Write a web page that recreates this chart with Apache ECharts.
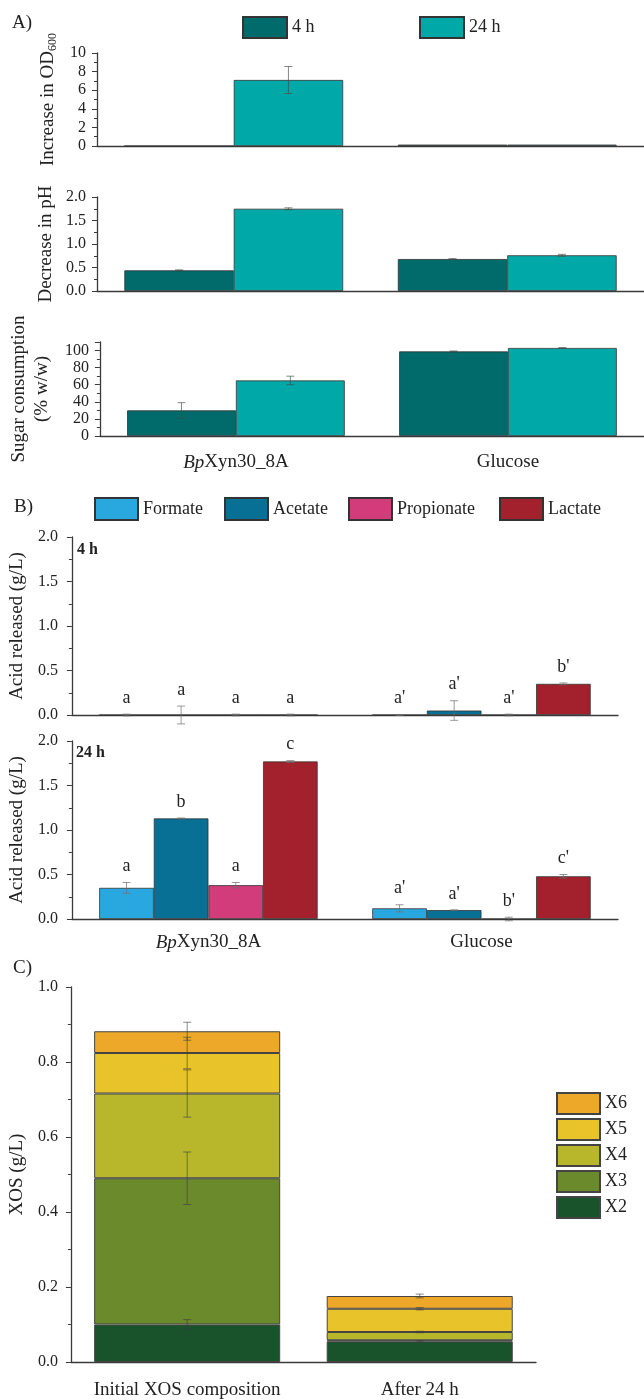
<!DOCTYPE html>
<html>
<head>
<meta charset="utf-8">
<script src="https://cdn.jsdelivr.net/npm/echarts@6/dist/echarts.min.js"></script>
<style>
  html, body { margin: 0; padding: 0; background: #fff; }
  #chart { width: 644px; height: 1400px; }
</style>
</head>
<body>
<div id="chart"></div>
<script>
// substrates
const groups = ['BpXyn30_8A', 'Glucose'];

// A) growth, pH and sugar consumption (4 h / 24 h)
const od4h = [0, 0.15];
const od4hErr = [0, 0];
const od24h = [7.1, 0.15];
const od24hErr = [1.45, 0];
const ph4h = [0.44, 0.68];
const ph4hErr = [0.01, 0.01];
const ph24h = [1.75, 0.76];
const ph24hErr = [0.02, 0.02];
const sugar4h = [30, 99];
const sugar4hErr = [9, 0.5];
const sugar24h = [65, 103];
const sugar24hErr = [5, 0.5];

// B) acids released, per acid: [BpXyn30_8A, Glucose]
const acids = ['Formate', 'Acetate', 'Propionate', 'Lactate'];
const acid4h = [[0, 0], [0, 0.05], [0, 0], [0, 0.35]];
const acid4hErr = [[0.01, 0.005], [0.1, 0.11], [0.01, 0.01], [0.01, 0.01]];
const acid4hLetters = [['a', "a'"], ['a', "a'"], ['a', "a'"], ['a', "b'"]];
const acid24h = [[0.35, 0.12], [1.13, 0.10], [0.38, 0], [1.77, 0.48]];
const acid24hErr = [[0.06, 0.04], [0.005, 0.003], [0.03, 0.02], [0.01, 0.02]];
const acid24hLetters = [['a', "a'"], ['b', "a'"], ['a', "b'"], ['c', "c'"]];

// C) XOS composition
const xosGroups = ['Initial XOS composition', 'After 24 h'];
const xosNames = ['X2', 'X3', 'X4', 'X5', 'X6'];
const xosValues = [[0.10, 0.055], [0.39, 0.003], [0.226, 0.022], [0.108, 0.062], [0.058, 0.034]];
const xosErr = [[0.013, 0.002], [0.07, 0], [0.063, 0.002], [0.042, 0.003], [0.024, 0.005]];

const FONT = "'Liberation Serif', 'Times New Roman', serif";
const INK = '#222';
const AXIS = '#3a3a3a';
const timeColors = { '4 h': '#016A6A', '24 h': '#00A9A8' };
const acidColors = ['#29A8E0', '#086F95', '#D33C7A', '#A3202D'];
const xosColors = ['#18532B', '#6B8A2C', '#B8B72C', '#E8C32A', '#EDA82A'];

const chart = echarts.init(document.getElementById('chart'), null, { renderer: 'canvas' });

const grids = [
  { left: 97, right: 0, top: 53, height: 93 },
  { left: 97, right: 0, top: 197, height: 94 },
  { left: 97, right: 0, top: 342, height: 94 },
  { left: 68, right: 26, top: 537, height: 178 },
  { left: 68, right: 26, top: 741, height: 178 },
  { left: 68, right: 108, top: 987, height: 376 }
];

function catAxis(gridIndex, data, showLabel, margin) {
  return {
    type: 'category', gridIndex, data,
    axisLine: { lineStyle: { color: AXIS, width: 1.3 } },
    axisTick: { show: false },
    axisLabel: {
      show: showLabel, interval: 0, margin, fontSize: 19, fontFamily: FONT, color: INK,
      formatter: v => v === 'BpXyn30_8A' ? '{i|Bp}Xyn30_8A' : v,
      rich: { i: { fontStyle: 'italic', fontSize: 19, fontFamily: FONT, color: INK } }
    }
  };
}

function valAxis(gridIndex, max, interval, name, nameGap, labelMargin, digits, extra) {
  return Object.assign({
    type: 'value', gridIndex, min: 0, max, interval,
    name, nameLocation: 'middle', nameGap,
    nameTextStyle: { fontSize: 19, fontFamily: FONT, color: INK },
    axisLine: { show: true, lineStyle: { color: AXIS, width: 1.3 } },
    axisTick: { show: true, length: 5, lineStyle: { color: AXIS } },
    minorTick: { show: true, splitNumber: 2, length: 3, lineStyle: { color: AXIS } },
    splitLine: { show: false },
    axisLabel: {
      margin: labelMargin, fontSize: 16, fontFamily: FONT, color: INK,
      formatter: v => v.toFixed(digits)
    }
  }, extra || {});
}

// error bars (and optional significance letters) centred on a bar slot
function errorSeries(gridIndex, means, errs, slot, nSlots, gap, letters, color) {
  return {
    type: 'custom', xAxisIndex: gridIndex, yAxisIndex: gridIndex, z: 10,
    silent: true, clip: false,
    data: means.map((m, i) => [i, m, errs[i]]),
    encode: { x: 0, y: 1 },
    renderItem: (params, api) => {
      const i = api.value(0), m = api.value(1), e = api.value(2);
      const c = api.coord([i, m]);
      const band = api.size([1, 0])[0];
      const bw = band * (1 - gap) / nSlots;
      const x = c[0] + (slot - (nSlots - 1) / 2) * bw;
      const top = api.coord([i, m + e])[1];
      const bot = api.coord([i, m - e])[1];
      const ls = { stroke: color, lineWidth: 1 };
      const children = [];
      if (e > 0) {
        children.push(
          { type: 'line', shape: { x1: x, y1: top, x2: x, y2: bot }, style: ls },
          { type: 'line', shape: { x1: x - 4, y1: top, x2: x + 4, y2: top }, style: ls },
          { type: 'line', shape: { x1: x - 4, y1: bot, x2: x + 4, y2: bot }, style: ls }
        );
      }
      if (letters) {
        children.push({
          type: 'text',
          style: {
            text: letters[params.dataIndex], x, y: top - 7,
            align: 'center', verticalAlign: 'bottom',
            font: '18px ' + FONT, fill: INK
          }
        });
      }
      return { type: 'group', children };
    }
  };
}

const series = [];
const gapA = 0.2, gapB = 0.2, gapC = 0.2;
const errGray = 'rgba(70,70,70,0.65)';

// panel A
[[od4h, od4hErr, od24h, od24hErr], [ph4h, ph4hErr, ph24h, ph24hErr], [sugar4h, sugar4hErr, sugar24h, sugar24hErr]]
  .forEach(([m4, e4, m24, e24], g) => {
    series.push(
      { name: '4 h', type: 'bar', xAxisIndex: g, yAxisIndex: g, data: m4, barGap: '0%', barCategoryGap: '20%',
        itemStyle: { color: timeColors['4 h'], borderColor: '#333', borderWidth: 0.8 } },
      { name: '24 h', type: 'bar', xAxisIndex: g, yAxisIndex: g, data: m24, barGap: '0%', barCategoryGap: '20%',
        itemStyle: { color: timeColors['24 h'], borderColor: '#333', borderWidth: 0.8 } },
      errorSeries(g, m4, e4, 0, 2, gapA, null, errGray),
      errorSeries(g, m24, e24, 1, 2, gapA, null, errGray)
    );
  });

// panel B
[[acid4h, acid4hErr, acid4hLetters], [acid24h, acid24hErr, acid24hLetters]].forEach(([vals, errs, lets], k) => {
  const g = 3 + k;
  acids.forEach((acid, a) => {
    series.push({
      name: acid, type: 'bar', xAxisIndex: g, yAxisIndex: g, data: vals[a], barGap: '0%', barCategoryGap: '20%',
      itemStyle: { color: acidColors[a], borderColor: '#333', borderWidth: 0.8 }
    });
  });
  acids.forEach((acid, a) => {
    series.push(errorSeries(g, vals[a], errs[a], a, 4, gapB, lets[a], 'rgba(110,110,110,0.7)'));
  });
});

// panel C (stacked)
const cum = [0, 0];
xosNames.forEach((nm, s) => {
  series.push({
    name: nm, type: 'bar', stack: 'xos', xAxisIndex: 5, yAxisIndex: 5, data: xosValues[s],
    barCategoryGap: '20%',
    itemStyle: { color: xosColors[s], borderColor: '#444', borderWidth: 1 }
  });
});
xosNames.forEach((nm, s) => {
  const tops = xosValues[s].map((v, i) => (cum[i] += v));
  series.push(errorSeries(5, tops, xosErr[s], 0, 1, gapC, null, 'rgba(60,60,60,0.6)'));
});

const legendText = { fontSize: 18, fontFamily: FONT, color: INK };
function oneLegend(name, left, top, w, h) {
  return { data: [name], left, top, padding: 0, itemWidth: w, itemHeight: h, itemGap: 0,
    icon: 'rect', textStyle: legendText, selectedMode: false };
}

const option = {
  animation: false,
  backgroundColor: '#fff',
  grid: grids,
  xAxis: [
    catAxis(0, groups, false, 10),
    catAxis(1, groups, false, 10),
    catAxis(2, groups, true, 17),
    catAxis(3, groups, false, 10),
    catAxis(4, groups, true, 14),
    catAxis(5, xosGroups, true, 19)
  ],
  yAxis: [
    valAxis(0, 10, 2, 'Increase in OD{s|600}', 38, 11, 0, {
      nameTextStyle: { fontSize: 19, fontFamily: FONT, color: INK, lineHeight: 22,
        rich: { s: { fontSize: 12, fontFamily: FONT, color: INK, lineHeight: 12, verticalAlign: 'bottom' } } }
    }),
    valAxis(1, 2, 0.5, 'Decrease in pH', 38, 11, 1),
    valAxis(2, 110, 20, 'Sugar consumption\n(% w/w)', 40, 11, 0, {
      nameTextStyle: { fontSize: 19, fontFamily: FONT, color: INK, lineHeight: 23 }
    }),
    valAxis(3, 2, 0.5, 'Acid released (g/L)', 40, 14, 1),
    valAxis(4, 2, 0.5, 'Acid released (g/L)', 40, 14, 1),
    valAxis(5, 1, 0.2, 'XOS (g/L)', 38, 13, 1)
  ],
  legend: [
    oneLegend('4 h', 242, 16, 44, 21),
    oneLegend('24 h', 419, 16, 44, 21),
    oneLegend('Formate', 94, 497, 43, 22),
    oneLegend('Acetate', 224, 497, 43, 22),
    oneLegend('Propionate', 348, 497, 43, 22),
    oneLegend('Lactate', 499, 497, 43, 22),
    { data: ['X6', 'X5', 'X4', 'X3', 'X2'], orient: 'vertical', left: 556, top: 1092, padding: 0,
      itemWidth: 43, itemHeight: 21, itemGap: 3, icon: 'rect', textStyle: legendText, selectedMode: false }
  ],
  graphic: [
    { type: 'text', left: 12, top: 14, style: { text: 'A)', font: '19px ' + FONT, fill: INK } },
    { type: 'text', left: 14, top: 498, style: { text: 'B)', font: '19px ' + FONT, fill: INK } },
    { type: 'text', left: 13, top: 959, style: { text: 'C)', font: '19px ' + FONT, fill: INK } },
    { type: 'text', left: 77, top: 542, style: { text: '4 h', font: 'bold 16px ' + FONT, fill: INK } },
    { type: 'text', left: 76, top: 745, style: { text: '24 h', font: 'bold 16px ' + FONT, fill: INK } }
  ],
  series
};

chart.setOption(option);
</script>
</body>
</html>
